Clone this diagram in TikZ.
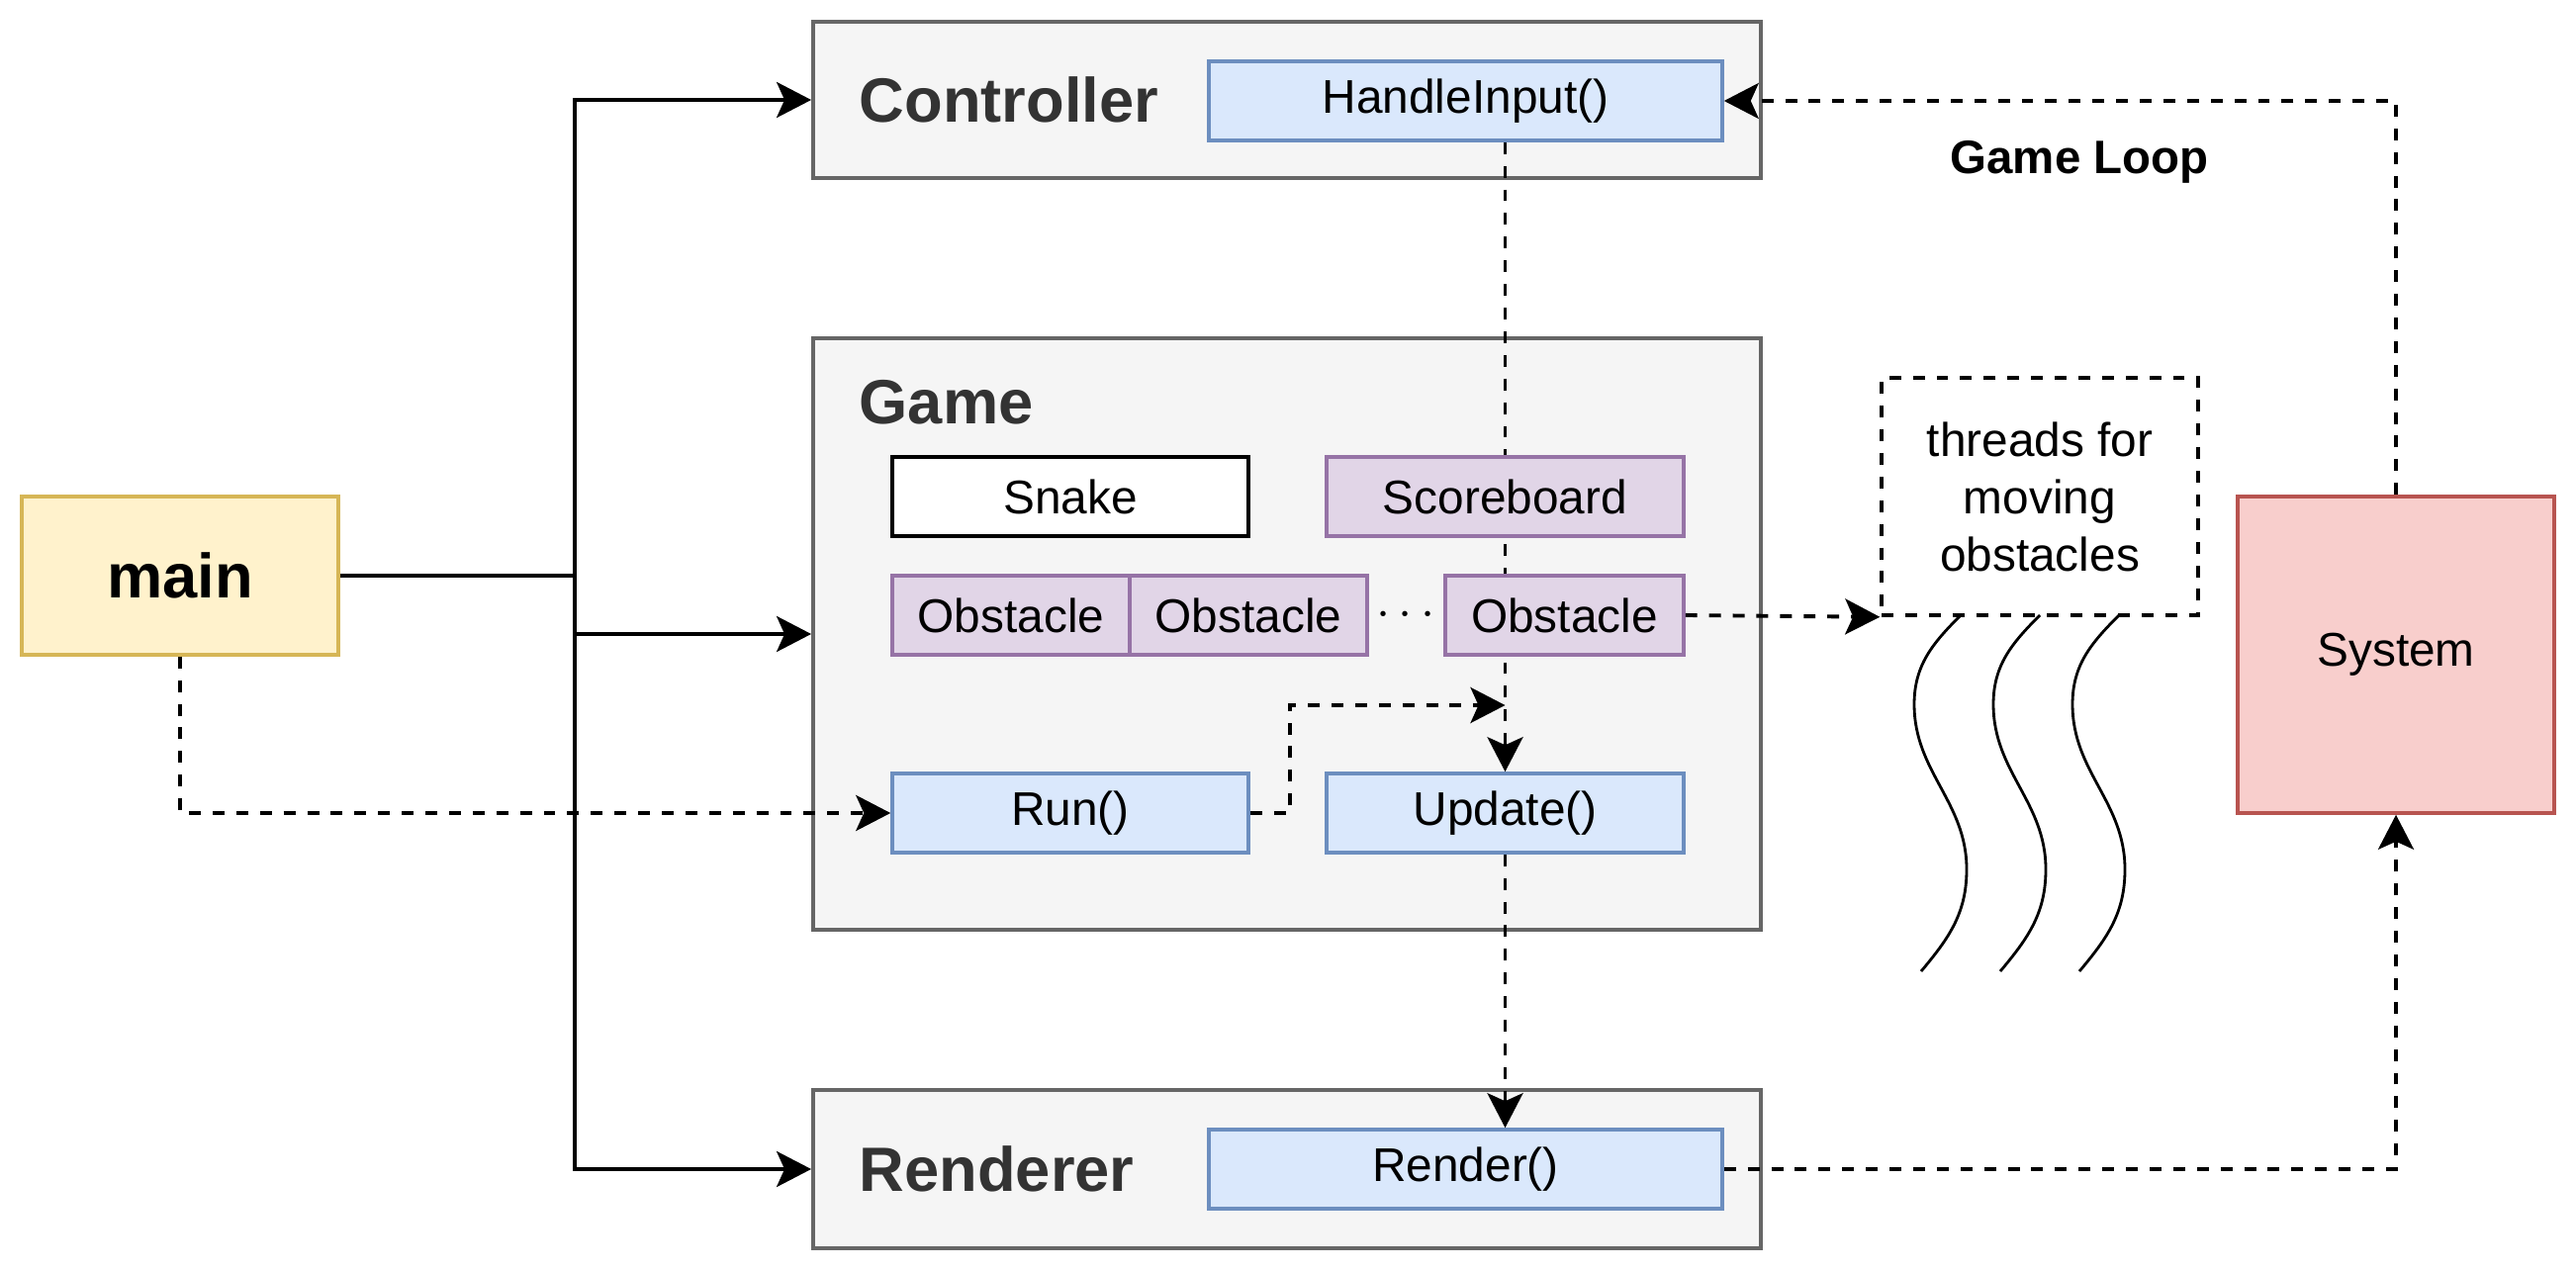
\documentclass[tikz,border=0pt]{standalone}
\usepackage{fontspec}
\setmainfont{Liberation Sans}
\usetikzlibrary{arrows.meta}

\definecolor{grayfill}{HTML}{F5F5F5}
\definecolor{graydraw}{HTML}{666666}
\definecolor{graytext}{HTML}{333333}
\definecolor{bluefill}{HTML}{DAE8FC}
\definecolor{bluedraw}{HTML}{6C8EBF}
\definecolor{purplefill}{HTML}{E1D5E7}
\definecolor{purpledraw}{HTML}{9673A6}
\definecolor{yellowfill}{HTML}{FFF2CC}
\definecolor{yellowdraw}{HTML}{D6B656}
\definecolor{redfill}{HTML}{F8CECC}
\definecolor{reddraw}{HTML}{B85450}

\pgfdeclarelayer{back}
\pgfdeclarelayer{mid}
\pgfsetlayers{back,mid,main}

\tikzset{
  box/.style={draw, line width=1pt, inner sep=0pt, minimum height=0.8cm,
    font=\fontsize{13.6pt}{16.5pt}\selectfont},
  module/.style={box, line width=1.1pt, fill=grayfill, draw=graydraw, minimum width=9.58cm},
  heading/.style={anchor=west, inner sep=0pt, text=graytext,
    font=\fontsize{18pt}{21pt}\selectfont\bfseries},
  fn/.style={box, fill=bluefill, draw=bluedraw},
  obj/.style={box, fill=purplefill, draw=purpledraw},
  arrowline/.style={-{Stealth[length=0.35cm, width=0.36cm, inset=0.08cm]}, line width=1.1pt},
  flow/.style={arrowline, dash pattern=on 3.4pt off 3.4pt},
}

\begin{document}
\begin{tikzpicture}
\useasboundingbox (0,0) rectangle (26.04,12.84);

% modules
\begin{pgfonlayer}{back}
\fill[white] (0,0) rectangle (26.04,12.84);
\node[module, minimum height=1.58cm] (ctrl) at (13.01,11.83) {};
\node[module, minimum height=5.98cm] (game) at (13.01,6.43) {};
\node[module, minimum height=1.6cm] (rend) at (13.01,1.02) {};
\end{pgfonlayer}
\node[heading] (ctrltitle) at (8.68,11.83) {Controller};
\node[heading] (gametitle) at (8.68,8.77) {Game};
\node[heading] (rendtitle) at (8.68,1.02) {Renderer};

\node[fn, minimum width=5.19cm] (handle) at (14.815,11.82) {HandleInput()};
\node[box, fill=white, minimum width=3.6cm] (snake) at (10.82,7.82) {Snake};
\node[obj, minimum width=3.61cm] (score) at (15.215,7.82) {Scoreboard};
\node[obj, minimum width=2.4cm] (obsa) at (10.22,6.62) {Obstacle};
\node[obj, minimum width=2.4cm] (obsb) at (12.62,6.62) {Obstacle};
\node[font=\fontsize{13.6pt}{16pt}\selectfont] (dots) at (14.21,6.62) {$\cdots$};
\node[obj, minimum width=2.41cm] (obsc) at (15.815,6.62) {Obstacle};
\node[fn, minimum width=3.6cm] (run) at (10.82,4.62) {Run()};
\node[fn, minimum width=3.61cm] (update) at (15.215,4.62) {Update()};
\node[fn, minimum width=5.19cm] (render) at (14.815,1.02) {Render()};

\node[box, fill=yellowfill, draw=yellowdraw, minimum width=3.2cm, minimum height=1.6cm,
  font=\fontsize{18pt}{21pt}\selectfont\bfseries] (main) at (1.82,7.02) {main};
\node[box, fill=redfill, draw=reddraw, minimum width=3.2cm, minimum height=3.2cm] (system) at (24.22,6.22) {System};
\node[box, dash pattern=on 3.4pt off 3.4pt, minimum width=3.2cm, minimum height=2.4cm,
  align=center] (threads) at (20.62,7.82) {threads for\\moving\\obstacles};
\node[font=\fontsize{13.5pt}{16pt}\selectfont\bfseries] (loop) at (21.02,11.2) {Game Loop};

% main to modules
\coordinate (bus) at (5.81,7.02);
\draw[line width=1.1pt] (main.east) -- (bus);
\draw[arrowline] (bus) |- (ctrl.west);
\draw[arrowline] (bus) |- (game.west);
\draw[arrowline] (bus) |- (rend.west);

% game loop
\draw[flow] (main.south) |- (run.west);
\coordinate (join) at (15.215,5.71);
\draw[flow] (run.east) -- ++(0.4,0) |- (join);
\begin{pgfonlayer}{mid}
\draw[flow] (update.north |- handle.south) -- (update.north);
\end{pgfonlayer}
\draw[flow] (update.south) -- (update.south |- render.north);
\draw[flow] (obsc.east) -- (threads.south west);
\draw[flow] (render.east) -| (system.south);
\draw[flow] (system.north) |- (handle.east);

% threads
\foreach \x in {19.42,20.22,21.02}
  \draw[line width=0.8pt] (\x+0.4,6.62) to[out=-135,in=90] (\x-0.07,5.72)
    to[out=-90,in=90] (\x+0.46,4.05) to[out=-90,in=50] (\x,3.02);

\end{tikzpicture}
\end{document}
